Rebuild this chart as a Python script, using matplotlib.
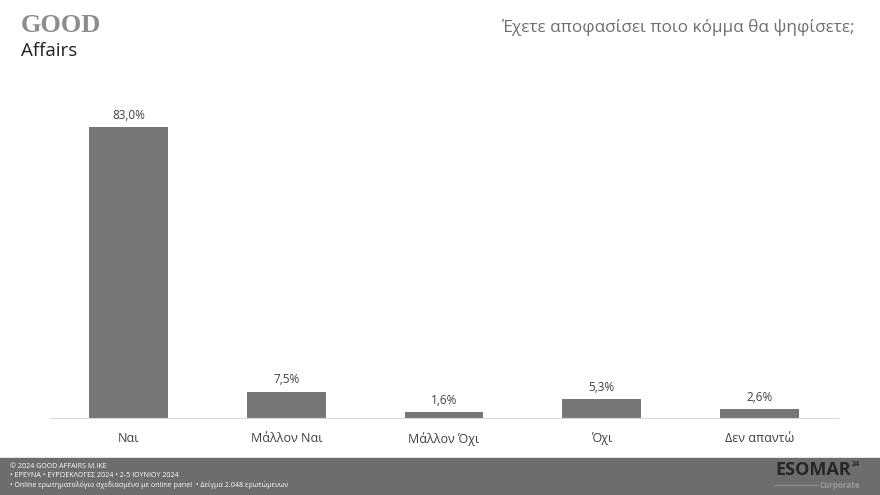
import matplotlib.pyplot as plt
from matplotlib.patches import Rectangle

# data
categories = ['Ναι', 'Μάλλον Ναι', 'Μάλλον Όχι', 'Όχι', 'Δεν απαντώ']
values = [83.0, 7.5, 1.6, 5.3, 2.6]
title = 'Έχετε αποφασίσει ποιο κόμμα θα ψηφίσετε;'
footer_lines = ['© 2024 GOOD AFFAIRS M.IKE',
                '• ΕΡΕΥΝΑ • ΕΥΡΩΕΚΛΟΓΕΣ 2024 • 2-5 ΙΟΥΝΙΟΥ 2024',
                '• Online ερωτηματολόγιο σχεδιασμένο με online panel  • Δείγμα 2.048 ερωτώμενων']

plt.rcParams['font.family'] = ['Open Sans', 'DejaVu Sans']

W, H = 880, 495
fig = plt.figure(figsize=(W / 100, H / 100), dpi=100)

# plot area
ax = fig.add_axes([50 / W, 1 - 418 / H, 788 / W, 338 / H])
x = range(len(categories))
bars = ax.bar(x, values, width=0.5, color='#767676')
ax.set_xlim(-0.5, len(categories) - 0.5)
ax.set_ylim(0, 338 / (291 / 83.0))
for b, v in zip(bars, values):
    ax.text(b.get_x() + b.get_width() / 2, v + 1.5, f'{v:.1f}%'.replace('.', ','),
            ha='center', va='bottom', fontsize=8.5, color='#404040')
ax.set_xticks(list(x))
ax.set_xticklabels(categories, fontsize=9, color='#404040')
ax.tick_params(axis='x', length=0, pad=10)
ax.set_yticks([])
for s in ['top', 'right', 'left']:
    ax.spines[s].set_visible(False)
ax.spines['bottom'].set_color('#d9d9d9')

# title
fig.text(855 / W, 1 - 27 / H, title, ha='right', va='center', fontsize=12.3, color='#6f6f6f')

# logo
fig.text(21 / W, 1 - 26 / H, 'GOOD', ha='left', va='center', fontsize=19,
         fontweight='bold', family='Liberation Serif', color='#8c8c8c')
fig.text(21 / W, 1 - 51 / H, 'Affairs', ha='left', va='center', fontsize=13.5, color='#222222')

# footer band
fig.patches.append(Rectangle((0, 0), 1, 37 / H, transform=fig.transFigure,
                             color='#6d6d6d', zorder=0))
for i, line in enumerate(footer_lines):
    fig.text(10 / W, 1 - (466.5 + i * 9) / H, line, ha='left', va='center',
             fontsize=5.1, color='white')
fig.text(775 / W, 1 - 470 / H, 'ESOMAR', ha='left', va='center', fontsize=13,
         fontweight='bold', color='#262626')
fig.text(852 / W, 1 - 465 / H, '24', ha='left', va='center', fontsize=5,
         fontweight='bold', color='#262626')
fig.text(860 / W, 1 - 485 / H, 'Corporate', ha='right', va='center', fontsize=5.8,
         fontweight='bold', color='#9a9a9a')
fig.lines.append(plt.Line2D([775 / W, 818 / W], [1 - 485 / H] * 2, transform=fig.transFigure,
                            color='#9a9a9a', lw=0.6))

fig.savefig('out.png', dpi=100, facecolor='white')
